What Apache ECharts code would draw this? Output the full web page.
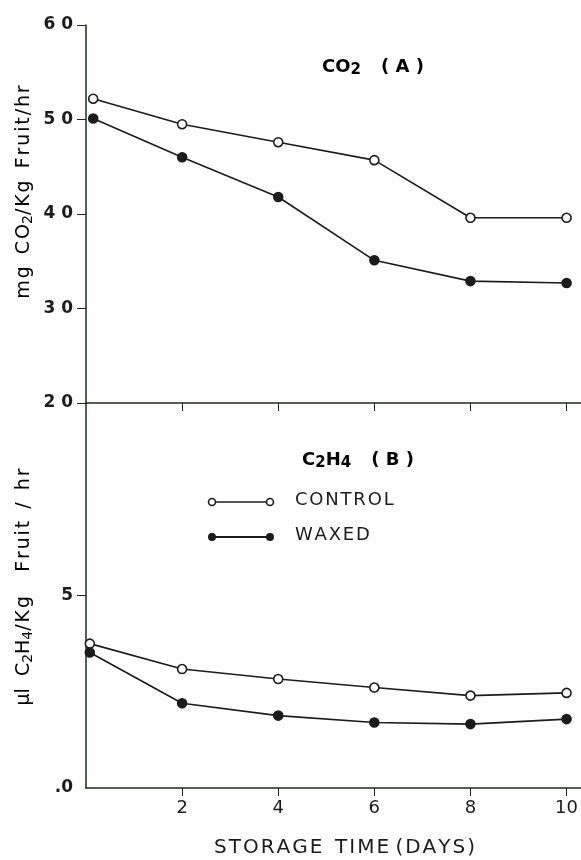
<!DOCTYPE html>
<html>
<head>
<meta charset="utf-8">
<script src="https://cdn.jsdelivr.net/npm/echarts@6/dist/echarts.min.js"></script>
<style>
  html, body { margin: 0; padding: 0; background: #fff; }
  #chart { width: 581px; height: 860px; }
</style>
</head>
<body>
<div id="chart"></div>
<script>
// storage days (first point plotted just off the axis in the original)
const daysA = [0.15, 2, 4, 6, 8, 10];
const daysB = [0.08, 2, 4, 6, 8, 10];

// (A) CO2, mg CO2/Kg fruit/hr
const co2Control = [52.2, 49.5, 47.6, 45.7, 39.6, 39.6];
const co2Waxed = [50.1, 46.0, 41.8, 35.1, 32.9, 32.7];

// (B) C2H4, ul C2H4/Kg fruit/hr
const c2h4Control = [3.75, 3.09, 2.83, 2.61, 2.40, 2.47];
const c2h4Waxed = [3.52, 2.20, 1.88, 1.70, 1.66, 1.79];

const xTicks = [2, 4, 6, 8, 10];
const yTicksA = [20, 30, 40, 50, 60];
const yTicksB = [0, 5];

const ink = '#1c1c1c';
const axisInk = '#163016';
const font = 'DejaVu Sans';

const pair = (xs, ys) => xs.map((x, i) => [x, ys[i]]);
// no letterSpacing in zrender, so spread letters with hair spaces
const spread = s => s.split('').join('\u200a');

const chart = echarts.init(document.getElementById('chart'));

const lineSeries = (name, idx, xs, ys, filled) => ({
  name: name,
  type: 'line',
  xAxisIndex: idx,
  yAxisIndex: idx,
  data: pair(xs, ys),
  symbol: 'circle',
  symbolSize: 9,
  silent: true,
  lineStyle: { color: ink, width: 1.6 },
  itemStyle: {
    color: filled ? ink : '#fff',
    borderColor: ink,
    borderWidth: 1.6
  }
});

const rich = {
  m: { fontFamily: font, fontSize: 19, color: ink, lineHeight: 22 },
  s: { fontFamily: font, fontSize: 14, color: ink, lineHeight: 12, verticalAlign: 'bottom' },
  b: { fontFamily: font, fontSize: 18, fontWeight: 'bold', color: ink, lineHeight: 22 },
  bs: { fontFamily: font, fontSize: 15, fontWeight: 'bold', color: ink, lineHeight: 12, verticalAlign: 'bottom' }
};

chart.setOption({
  animation: false,
  backgroundColor: '#fff',
  grid: [
    { left: 86, top: 25, width: 495, height: 378 },
    { left: 86, top: 403, width: 495, height: 385 }
  ],
  xAxis: [
    {
      type: 'value', gridIndex: 0, min: 0, max: 10.3,
      axisLine: { lineStyle: { color: axisInk, width: 1.5 } },
      axisTick: { customValues: xTicks, length: 8, lineStyle: { color: axisInk } },
      axisLabel: { show: false },
      splitLine: { show: false }
    },
    {
      type: 'value', gridIndex: 1, min: 0, max: 10.3,
      name: spread('STORAGE') + '  ' + spread('TIME') + ' ' + spread('(DAYS)'),
      nameLocation: 'middle',
      nameGap: 50,
      nameTextStyle: { fontFamily: font, fontSize: 20, color: ink, padding: [0, 0, 0, 22] },
      axisLine: { lineStyle: { color: axisInk, width: 1.5 } },
      axisTick: { customValues: xTicks, length: 8, lineStyle: { color: axisInk } },
      axisLabel: { customValues: xTicks, fontFamily: font, fontSize: 18, color: ink, margin: 11 },
      splitLine: { show: false }
    }
  ],
  yAxis: [
    {
      type: 'value', gridIndex: 0, min: 20, max: 60, interval: 10,
      axisLine: { show: true, lineStyle: { color: axisInk, width: 1.5 } },
      axisTick: { customValues: yTicksA, length: 9, lineStyle: { color: axisInk } },
      axisLabel: {
        customValues: yTicksA, fontFamily: font, fontSize: 17, fontWeight: 'bold', color: ink, margin: 13,
        formatter: v => String(v).split('').join(' ')
      },
      splitLine: { show: false }
    },
    {
      type: 'value', gridIndex: 1, min: 0, max: 10, interval: 5,
      axisLine: { show: true, lineStyle: { color: axisInk, width: 1.5 } },
      axisTick: { customValues: [5], length: 9, lineStyle: { color: axisInk } },
      axisLabel: {
        customValues: yTicksB, fontFamily: font, fontSize: 17, fontWeight: 'bold', color: ink, margin: 13,
        formatter: v => (v === 0 ? '.0' : String(v))
      },
      splitLine: { show: false }
    }
  ],
  series: [
    lineSeries('CONTROL', 0, daysA, co2Control, false),
    lineSeries('WAXED', 0, daysA, co2Waxed, true),
    lineSeries('CONTROL', 1, daysB, c2h4Control, false),
    lineSeries('WAXED', 1, daysB, c2h4Waxed, true)
  ],
  graphic: [
    // panel labels
    { type: 'text', left: 322, top: 58, style: { text: '{b|CO}{bs|2}      {b|( A )}', rich: rich } },
    { type: 'text', left: 302, top: 451, style: { text: '{b|C}{bs|2}{b|H}{bs|4}      {b|( B )}', rich: rich } },
    // y axis names
    {
      type: 'text', x: 24, y: 192, rotation: Math.PI / 2,
      style: {
        text: '{m|' + spread('mg') + '  ' + spread('CO') + '}{s|2}{m|' + spread('/Kg') + '  ' + spread('Fruit/hr') + '}',
        rich: rich, align: 'center', verticalAlign: 'middle'
      }
    },
    {
      type: 'text', x: 24, y: 587, rotation: Math.PI / 2,
      style: {
        text: '{m|\u00b5l  ' + spread('C') + '}{s|2}{m|H}{s|4}{m|' + spread('/Kg') + '    ' + spread('Fruit') + '  /  ' + spread('hr') + '}',
        rich: rich, align: 'center', verticalAlign: 'middle'
      }
    },
    // legend
    { type: 'line', shape: { x1: 212, y1: 502, x2: 270, y2: 502 }, style: { stroke: ink, lineWidth: 1.6 } },
    { type: 'circle', shape: { cx: 212, cy: 502, r: 3.5 }, style: { fill: '#fff', stroke: ink, lineWidth: 1.6 } },
    { type: 'circle', shape: { cx: 270, cy: 502, r: 3.5 }, style: { fill: '#fff', stroke: ink, lineWidth: 1.6 } },
    { type: 'text', left: 295, top: 491, style: { text: spread('CONTROL'), fontFamily: font, fontSize: 18, fill: ink } },
    { type: 'line', shape: { x1: 212, y1: 537, x2: 270, y2: 537 }, style: { stroke: ink, lineWidth: 2 } },
    { type: 'circle', shape: { cx: 212, cy: 537, r: 4 }, style: { fill: ink } },
    { type: 'circle', shape: { cx: 270, cy: 537, r: 4 }, style: { fill: ink } },
    { type: 'text', left: 295, top: 526, style: { text: spread('WAXED'), fontFamily: font, fontSize: 18, fill: ink } }
  ]
});

window.addEventListener('resize', () => chart.resize());
</script>
</body>
</html>
